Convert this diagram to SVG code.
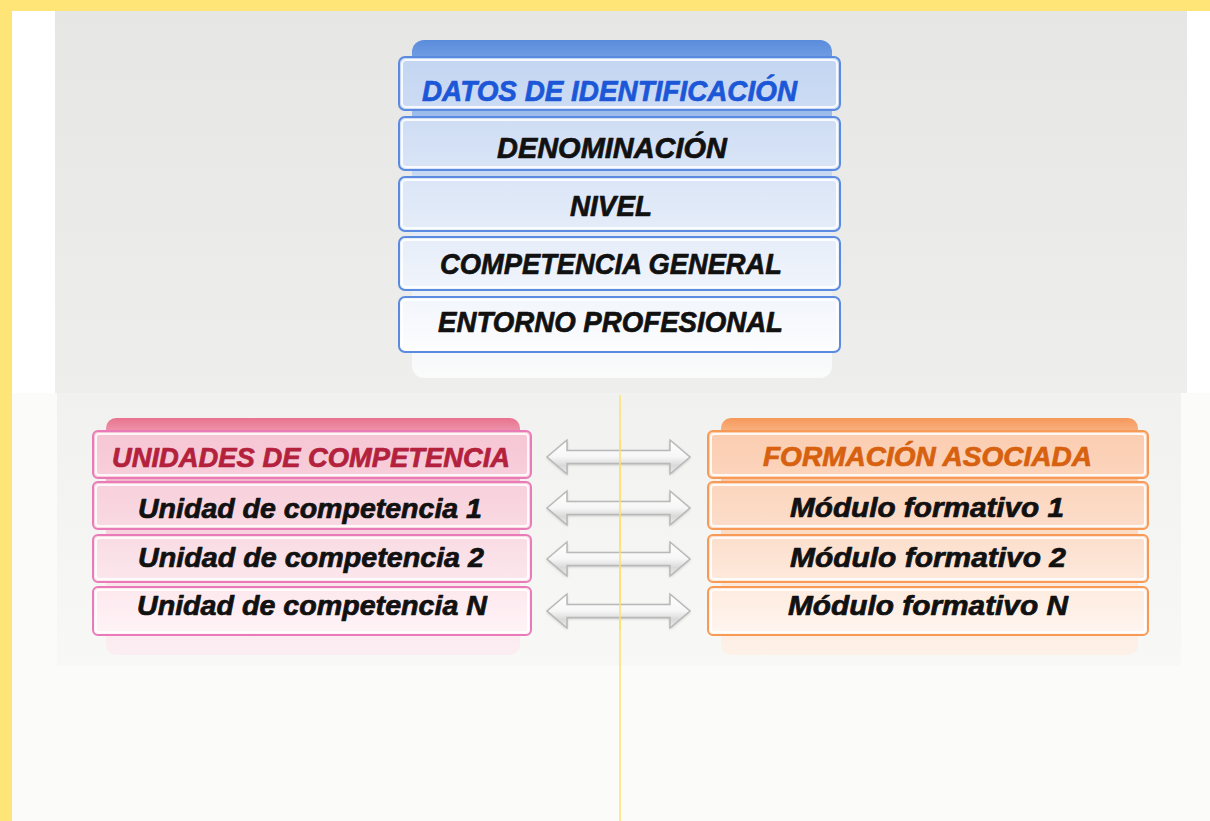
<svg xmlns="http://www.w3.org/2000/svg" width="1210" height="821" viewBox="0 0 1210 821">
<defs>
<style>
.t{font-family:"Liberation Sans",Arial,sans-serif;font-weight:bold;font-style:italic;font-size:30px;text-anchor:start;stroke-width:0.7px;stroke-linejoin:round}
.s{font-size:27px}
.bk{fill:#111;stroke:#111}
.inner{fill:none;stroke:#fff;stroke-width:2;opacity:0.85}
.arr{fill:url(#gArr);stroke:#b8b8b8;stroke-width:1.5}
</style>
<linearGradient id="gTop" x1="0" y1="0" x2="0" y2="1">
<stop offset="0" stop-color="#e6e6e4"/><stop offset="1" stop-color="#eeeeec"/>
</linearGradient>
<linearGradient id="gMid" x1="0" y1="0" x2="0" y2="1">
<stop offset="0" stop-color="#f1f1ef"/><stop offset="1" stop-color="#f8f8f6"/>
</linearGradient>
<linearGradient id="gBlueTab" gradientUnits="userSpaceOnUse" x1="0" y1="40" x2="0" y2="378">
<stop offset="0" stop-color="#5a8cdc"/><stop offset="0.08" stop-color="#7ea6e6"/><stop offset="0.5" stop-color="#dfe8f6"/><stop offset="1" stop-color="#fbfbfb"/>
</linearGradient>
<linearGradient id="gBlueRow" gradientUnits="userSpaceOnUse" x1="0" y1="57" x2="0" y2="353">
<stop offset="0" stop-color="#c3d5f2"/><stop offset="0.45" stop-color="#dde7f7"/><stop offset="1" stop-color="#fdfdfe"/>
</linearGradient>
<linearGradient id="gPinkTab" gradientUnits="userSpaceOnUse" x1="0" y1="418" x2="0" y2="655">
<stop offset="0" stop-color="#e8738f"/><stop offset="0.07" stop-color="#ef9db2"/><stop offset="0.6" stop-color="#fbe3ea"/><stop offset="1" stop-color="#fbeef2"/>
</linearGradient>
<linearGradient id="gPinkRow" gradientUnits="userSpaceOnUse" x1="0" y1="431" x2="0" y2="635">
<stop offset="0" stop-color="#f6c5d3"/><stop offset="0.5" stop-color="#f9dbe4"/><stop offset="1" stop-color="#fff4f7"/>
</linearGradient>
<linearGradient id="gOrTab" gradientUnits="userSpaceOnUse" x1="0" y1="418" x2="0" y2="655">
<stop offset="0" stop-color="#f7985a"/><stop offset="0.07" stop-color="#f9b88c"/><stop offset="0.6" stop-color="#fde6d6"/><stop offset="1" stop-color="#fdf1e8"/>
</linearGradient>
<linearGradient id="gOrRow" gradientUnits="userSpaceOnUse" x1="0" y1="431" x2="0" y2="635">
<stop offset="0" stop-color="#fbcdb0"/><stop offset="0.5" stop-color="#fcdecb"/><stop offset="1" stop-color="#fff6f0"/>
</linearGradient>
<linearGradient id="gArr" x1="0" y1="0" x2="0" y2="1">
<stop offset="0" stop-color="#ffffff"/><stop offset="0.5" stop-color="#f6f6f6"/><stop offset="0.75" stop-color="#d9d9d9"/><stop offset="1" stop-color="#ececec"/>
</linearGradient>
<filter id="blur" x="-10%" y="-30%" width="120%" height="160%">
<feGaussianBlur stdDeviation="1.5"/>
</filter>
<path id="dArrow" d="M0,0 L20,-17 L20,-6.5 L123,-6.5 L123,-17 L143,0 L123,17 L123,6.5 L20,6.5 L20,17 Z"/>
</defs>

<!-- background -->
<rect x="0" y="0" width="1210" height="821" fill="#fbfbf9"/>
<rect x="12" y="11" width="1198" height="382" fill="#ffffff"/>
<rect x="55" y="11" width="1132" height="382" fill="url(#gTop)"/>
<rect x="57" y="393" width="1124" height="273" fill="url(#gMid)"/>
<rect x="0" y="0" width="1210" height="11" fill="#ffe477"/>
<rect x="0" y="0" width="12" height="821" fill="#ffe477"/>
<line x1="620" y1="395" x2="620" y2="821" stroke="#ffe16e" stroke-width="1.5"/>

<!-- top stack -->
<g id="datos">
<rect x="412" y="40" width="420" height="338" rx="12" fill="url(#gBlueTab)"/>
<g id="row-datos">
<rect x="399" y="57" width="441" height="53" rx="6" fill="url(#gBlueRow)" stroke="#5b8be0" stroke-width="2"/>
<rect x="402" y="60" width="435" height="47" rx="4" class="inner"/>
<text x="422" y="101" class="t" fill="#1c57d8" stroke="#1c57d8" textLength="375" lengthAdjust="spacingAndGlyphs">DATOS DE IDENTIFICACIÓN</text>
</g>
<g id="row-denominacion">
<rect x="399" y="117" width="441" height="53" rx="6" fill="url(#gBlueRow)" stroke="#5b8be0" stroke-width="2"/>
<rect x="402" y="120" width="435" height="47" rx="4" class="inner"/>
<text x="497" y="158" class="t bk" textLength="230" lengthAdjust="spacingAndGlyphs">DENOMINACIÓN</text>
</g>
<g id="row-nivel">
<rect x="399" y="177" width="441" height="54" rx="6" fill="url(#gBlueRow)" stroke="#5b8be0" stroke-width="2"/>
<rect x="402" y="180" width="435" height="48" rx="4" class="inner"/>
<text x="570" y="216" class="t bk" textLength="82" lengthAdjust="spacingAndGlyphs">NIVEL</text>
</g>
<g id="row-competencia">
<rect x="399" y="237" width="441" height="53" rx="6" fill="url(#gBlueRow)" stroke="#5b8be0" stroke-width="2"/>
<rect x="402" y="240" width="435" height="47" rx="4" class="inner"/>
<text x="440" y="274" class="t bk" textLength="342" lengthAdjust="spacingAndGlyphs">COMPETENCIA GENERAL</text>
</g>
<g id="row-entorno">
<rect x="399" y="297" width="441" height="55" rx="6" fill="url(#gBlueRow)" stroke="#5b8be0" stroke-width="2"/>
<rect x="402" y="300" width="435" height="49" rx="4" class="inner"/>
<text x="438" y="332" class="t bk" textLength="345" lengthAdjust="spacingAndGlyphs">ENTORNO PROFESIONAL</text>
</g>
</g>

<!-- left stack -->
<g id="unidades">
<rect x="106" y="418" width="414" height="237" rx="10" fill="url(#gPinkTab)"/>
<g id="row-uc-head">
<rect x="93" y="431" width="438" height="47" rx="5" fill="url(#gPinkRow)" stroke="#e97bb9" stroke-width="2"/>
<rect x="96" y="434" width="432" height="41" rx="3" class="inner"/>
<text x="112" y="467" class="t s" fill="#b3213c" stroke="#b3213c" textLength="398" lengthAdjust="spacingAndGlyphs">UNIDADES DE COMPETENCIA</text>
</g>
<g id="row-uc1">
<rect x="93" y="482" width="438" height="47" rx="5" fill="url(#gPinkRow)" stroke="#e97bb9" stroke-width="2"/>
<rect x="96" y="485" width="432" height="41" rx="3" class="inner"/>
<text x="138" y="518" class="t s bk" textLength="344" lengthAdjust="spacingAndGlyphs">Unidad de competencia 1</text>
</g>
<g id="row-uc2">
<rect x="93" y="535" width="438" height="47" rx="5" fill="url(#gPinkRow)" stroke="#e97bb9" stroke-width="2"/>
<rect x="96" y="538" width="432" height="41" rx="3" class="inner"/>
<text x="138" y="567" class="t s bk" textLength="346" lengthAdjust="spacingAndGlyphs">Unidad de competencia 2</text>
</g>
<g id="row-ucn">
<rect x="93" y="587" width="438" height="48" rx="5" fill="url(#gPinkRow)" stroke="#e97bb9" stroke-width="2"/>
<rect x="96" y="590" width="432" height="42" rx="3" class="inner"/>
<text x="137" y="615" class="t s bk" textLength="350" lengthAdjust="spacingAndGlyphs">Unidad de competencia N</text>
</g>
</g>

<!-- right stack -->
<g id="formacion">
<rect x="721" y="418" width="417" height="237" rx="10" fill="url(#gOrTab)"/>
<g id="row-fa-head">
<rect x="708" y="431" width="440" height="47" rx="5" fill="url(#gOrRow)" stroke="#f79a55" stroke-width="2"/>
<rect x="711" y="434" width="434" height="41" rx="3" class="inner"/>
<text x="763" y="466" class="t s" fill="#d7610f" stroke="#d7610f" textLength="329" lengthAdjust="spacingAndGlyphs">FORMACIÓN ASOCIADA</text>
</g>
<g id="row-mf1">
<rect x="708" y="482" width="440" height="47" rx="5" fill="url(#gOrRow)" stroke="#f79a55" stroke-width="2"/>
<rect x="711" y="485" width="434" height="41" rx="3" class="inner"/>
<text x="790" y="517" class="t s bk" textLength="274" lengthAdjust="spacingAndGlyphs">Módulo formativo 1</text>
</g>
<g id="row-mf2">
<rect x="708" y="535" width="440" height="47" rx="5" fill="url(#gOrRow)" stroke="#f79a55" stroke-width="2"/>
<rect x="711" y="538" width="434" height="41" rx="3" class="inner"/>
<text x="790" y="567" class="t s bk" textLength="276" lengthAdjust="spacingAndGlyphs">Módulo formativo 2</text>
</g>
<g id="row-mfn">
<rect x="708" y="587" width="440" height="48" rx="5" fill="url(#gOrRow)" stroke="#f79a55" stroke-width="2"/>
<rect x="711" y="590" width="434" height="42" rx="3" class="inner"/>
<text x="788" y="615" class="t s bk" textLength="280" lengthAdjust="spacingAndGlyphs">Módulo formativo N</text>
</g>
</g>

<!-- connectors -->
<g id="connectors">
<g filter="url(#blur)" fill="#9a9a9a" opacity="0.7">
<use href="#dArrow" x="547" y="458"/>
<use href="#dArrow" x="547" y="509"/>
<use href="#dArrow" x="547" y="560"/>
<use href="#dArrow" x="547" y="612"/>
</g>
<use href="#dArrow" x="547" y="457" class="arr"/>
<use href="#dArrow" x="547" y="508" class="arr"/>
<use href="#dArrow" x="547" y="559" class="arr"/>
<use href="#dArrow" x="547" y="611" class="arr"/>
</g>
<line x1="620" y1="440" x2="620" y2="630" stroke="#ffe16e" stroke-width="1.5"/>
</svg>
